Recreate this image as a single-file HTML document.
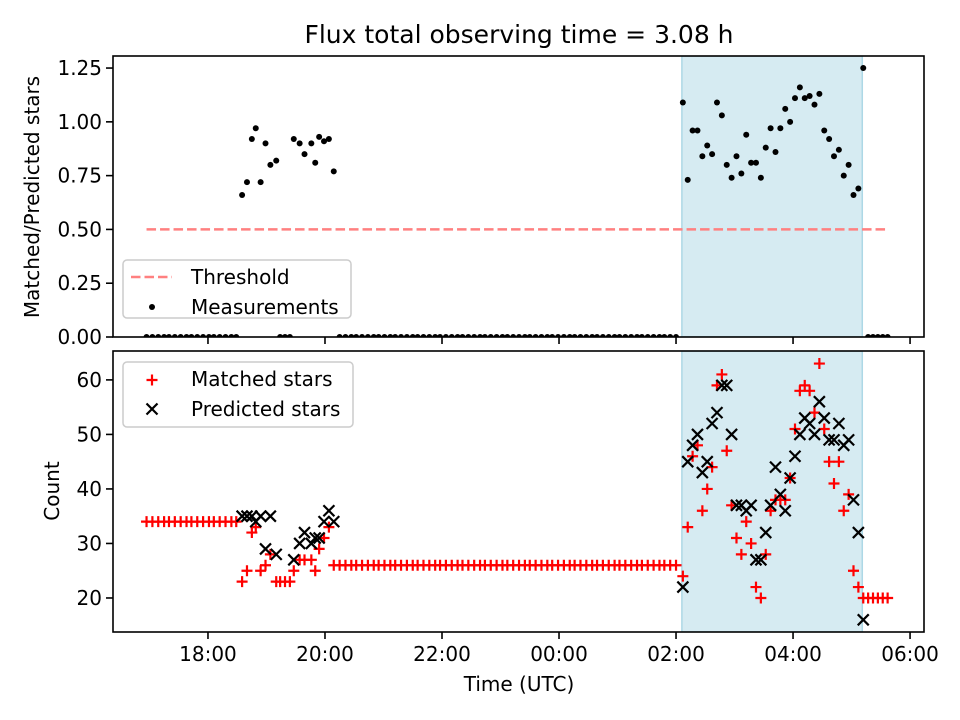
<!DOCTYPE html>
<html><head><meta charset="utf-8"><style>
html,body{margin:0;padding:0;background:#fff;}
svg{display:block;font-family:"DejaVu Sans","Liberation Sans",sans-serif;}
</style></head><body>
<svg id="chart" width="960" height="720" viewBox="0 0 960 720" xmlns="http://www.w3.org/2000/svg"></svg>
<script>
// time in minutes after midnight of first day
const times = [1017,1023,1029,1035,1040,1046,1052,1058,1063,1069,1075,1081,1086,1092,1098,1104,1109,
1115,1120,1125,1129,1134,1139,1144,1150,1154,1159,1164,1168,1174,1179,1186,1190,1194,1199,1204,1209,
1215,1221,1227,1232,1238,1244,1250,1255,1261,1267,1272,1278,1284,1290,1295,1301,1307,1313,1318,1324,
1330,1336,1341,1347,1353,1359,1364,1370,1376,1382,1387,1393,1399,1405,1410,1416,1422,1428,1433,1439,
1445,1451,1456,1462,1468,1474,1479,1485,1491,1497,1502,1508,1514,1520,1525,1531,1537,1543,1548,1554,1560,
1567,1572,1577,1582,1587,1592,1597,1602,1607,1612,1617,1622,1627,1632,1637,1642,1647,1652,1657,1662,
1667,1672,1677,1682,1687,1692,1697,1702,1707,1712,1717,1722,1727,1732,1737,1742,1747,1752,
1757,1762,1767,1772,1777];
const matched = [34,34,34,34,34,34,34,34,34,34,34,34,34,34,34,34,34,
23,25,32,33,25,26,28,23,23,23,23,25,27,27,27,25,29,31,33,26,
26,26,26,26,26,26,26,26,26,26,26,26,26,26,26,26,26,26,26,26,
26,26,26,26,26,26,26,26,26,26,26,26,26,26,26,26,26,26,26,26,
26,26,26,26,26,26,26,26,26,26,26,26,26,26,26,26,26,26,26,26,26,
24,33,46,48,36,40,44,59,61,47,37,31,28,34,30,22,20,28,36,38,
38,38,42,51,58,59,58,54,63,51,45,41,45,36,39,25,22,20,
20,20,20,20,20];
const predicted = [null,null,null,null,null,null,null,null,null,null,null,null,null,null,null,null,null,
35,35,35,34,35,29,35,28,null,null,null,27,30,32,30,31,31,34,36,34,
null,null,null,null,null,null,null,null,null,null,null,null,null,null,null,null,null,null,null,null,
null,null,null,null,null,null,null,null,null,null,null,null,null,null,null,null,null,null,null,null,
null,null,null,null,null,null,null,null,null,null,null,null,null,null,null,null,null,null,null,null,null,
22,45,48,50,43,45,52,54,59,59,50,37,37,36,37,27,27,32,37,44,
39,36,42,46,50,53,52,50,56,53,49,49,52,48,49,38,32,16,
null,null,null,null,null];
const ratio = [0,0,0,0,0,0,0,0,0,0,0,0,0,0,0,0,0,
0.66,0.72,0.92,0.97,0.72,0.90,0.80,0.82,0,0,0,0.92,0.90,0.85,0.90,0.81,0.93,0.91,0.92,0.77,
0,0,0,0,0,0,0,0,0,0,0,0,0,0,0,0,0,0,0,0,
0,0,0,0,0,0,0,0,0,0,0,0,0,0,0,0,0,0,0,0,
0,0,0,0,0,0,0,0,0,0,0,0,0,0,0,0,0,0,0,0,0,
1.09,0.73,0.96,0.96,0.84,0.89,0.85,1.09,1.03,0.80,0.74,0.84,0.76,0.94,0.81,0.81,0.74,0.88,0.97,0.86,
0.97,1.06,1.00,1.11,1.16,1.11,1.12,1.08,1.13,0.96,0.92,0.84,0.87,0.75,0.80,0.66,0.69,1.25,
0,0,0,0,0];
const threshold = 0.5;
const shadeSpan = [1566, 1751];
const xTickValues = [1080,1200,1320,1440,1560,1680,1800];
const xTickLabels = ["18:00","20:00","22:00","00:00","02:00","04:00","06:00"];
const topTickValues = [0,0.25,0.5,0.75,1.0,1.25];
const topTickLabels = ["0.00","0.25","0.50","0.75","1.00","1.25"];
const botTickValues = [20,30,40,50,60];
const botTickLabels = ["20","30","40","50","60"];

const NS="http://www.w3.org/2000/svg";
const svg=document.getElementById('chart');
const L=113,R=924,T1=56,B1=337,T2=351,B2=632;
const xDom=[982.6,1814.3], yTop=[0,1.306], yBot=[13.76,65.3];
function xs(t){return L+(t-xDom[0])/(xDom[1]-xDom[0])*(R-L);}
function yt(v){return B1-(v-yTop[0])/(yTop[1]-yTop[0])*(B1-T1);}
function yb(v){return B2-(v-yBot[0])/(yBot[1]-yBot[0])*(B2-T2);}
function mk(tag,attrs,parent){const e=document.createElementNS(NS,tag);for(const k in attrs)e.setAttribute(k,attrs[k]);(parent||svg).appendChild(e);return e;}

// clip paths
const defs=mk('defs',{});
const c1=mk('clipPath',{id:'clipTop'},defs);mk('rect',{x:L,y:T1,width:R-L,height:B1-T1},c1);
const c2=mk('clipPath',{id:'clipBot'},defs);mk('rect',{x:L,y:T2,width:R-L,height:B2-T2},c2);

// title
const title=mk('text',{x:519,y:43,'text-anchor':'middle','font-size':'25'});
title.textContent='Flux total observing time = 3.08 h';



function panel(top,bottom,clip,yfn,tv,tl,name){
  const g=mk('g',{'clip-path':'url(#'+clip+')'});
  
  
  const sh=mk('rect',{x:xs(shadeSpan[0]),y:top,width:xs(shadeSpan[1])-xs(shadeSpan[0]),height:bottom-top,fill:'#add8e6','fill-opacity':'0.5',stroke:'#add8e6','stroke-width':'1.5'},g);
  
  
  // ticks
  const ax=mk('g',{});
  
  
  xTickValues.forEach(v=>{const x=xs(v);mk('line',{x1:x,x2:x,y1:bottom,y2:bottom+7,stroke:'#000','stroke-width':'1.6'},ax);});
  tv.forEach((v,i)=>{const y=yfn(v);mk('line',{x1:L-7,x2:L,y1:y,y2:y,stroke:'#000','stroke-width':'1.6'},ax);
    const t=mk('text',{x:L-11,y:y+7,'text-anchor':'end','font-size':'20'},ax);t.textContent=tl[i];
    
    });
  return {g,ax};
}
const p1=panel(T1,B1,'clipTop',yt,topTickValues,topTickLabels,'top');
const p2=panel(T2,B2,'clipBot',yb,botTickValues,botTickLabels,'bottom');

// threshold line
const th=mk('line',{x1:xs(times[0]),x2:xs(times[times.length-1]),y1:yt(threshold),y2:yt(threshold),stroke:'#ff8080','stroke-width':'2.5','stroke-dasharray':'9.5,4'},p1.g);


// measurements
times.forEach((t,i)=>{if(ratio[i]==null)return;
  const c=mk('circle',{cx:xs(t),cy:yt(ratio[i]),r:3,fill:'#000'},p1.g);
  
  });
// matched (+)
times.forEach((t,i)=>{if(matched[i]==null)return;const x=xs(t),y=yb(matched[i]),s=5.5;
  const p=mk('path',{d:`M${x-s},${y}H${x+s}M${x},${y-s}V${y+s}`,stroke:'#ff0000','stroke-width':'2.2',fill:'none'},p2.g);
  
  });
// predicted (x)
times.forEach((t,i)=>{if(predicted[i]==null)return;const x=xs(t),y=yb(predicted[i]),s=5.5;
  const p=mk('path',{d:`M${x-s},${y-s}L${x+s},${y+s}M${x-s},${y+s}L${x+s},${y-s}`,stroke:'#000','stroke-width':'2.2',fill:'none'},p2.g);
  
  });

// frames
const f1=mk('rect',{x:L,y:T1,width:R-L,height:B1-T1,fill:'none',stroke:'#000','stroke-width':'1.6'});


const f2=mk('rect',{x:L,y:T2,width:R-L,height:B2-T2,fill:'none',stroke:'#000','stroke-width':'1.6'});



// x tick labels
xTickValues.forEach((v,i)=>{const t=mk('text',{x:xs(v),y:B2+29,'text-anchor':'middle','font-size':'20'});t.textContent=xTickLabels[i];
  
  });
const xl=mk('text',{x:519,y:691,'text-anchor':'middle','font-size':'20'});xl.textContent='Time (UTC)';


const yl1=mk('text',{x:0,y:0,'text-anchor':'middle','font-size':'20',transform:'translate(39,197) rotate(-90)'});yl1.textContent='Matched/Predicted stars';


const yl2=mk('text',{x:0,y:0,'text-anchor':'middle','font-size':'20',transform:'translate(59,491) rotate(-90)'});yl2.textContent='Count';



// legends
const lg1=mk('g',{});


mk('rect',{x:123,y:260,width:228,height:58,rx:4,fill:'#fff','fill-opacity':'0.8',stroke:'#cccccc','stroke-width':'1.5'},lg1);
mk('line',{x1:131,x2:172,y1:277,y2:277,stroke:'#ff8080','stroke-width':'2.5','stroke-dasharray':'9.5,4'},lg1);
let tx=mk('text',{x:191,y:284,'font-size':'20'},lg1);tx.textContent='Threshold';


mk('circle',{cx:152,cy:307,r:3,fill:'#000'},lg1);
tx=mk('text',{x:191,y:314,'font-size':'20'},lg1);tx.textContent='Measurements';



const lg2=mk('g',{});


mk('rect',{x:123,y:362,width:230,height:65,rx:4,fill:'#fff','fill-opacity':'0.8',stroke:'#cccccc','stroke-width':'1.5'},lg2);
mk('path',{d:'M146.5,380H157.5M152,374.5V385.5',stroke:'#ff0000','stroke-width':'2.2'},lg2);
tx=mk('text',{x:191,y:386,'font-size':'20'},lg2);tx.textContent='Matched stars';


mk('path',{d:'M146.5,403.5L157.5,414.5M146.5,414.5L157.5,403.5',stroke:'#000','stroke-width':'2.2'},lg2);
tx=mk('text',{x:191,y:416,'font-size':'20'},lg2);tx.textContent='Predicted stars';


</script>
</body></html>
